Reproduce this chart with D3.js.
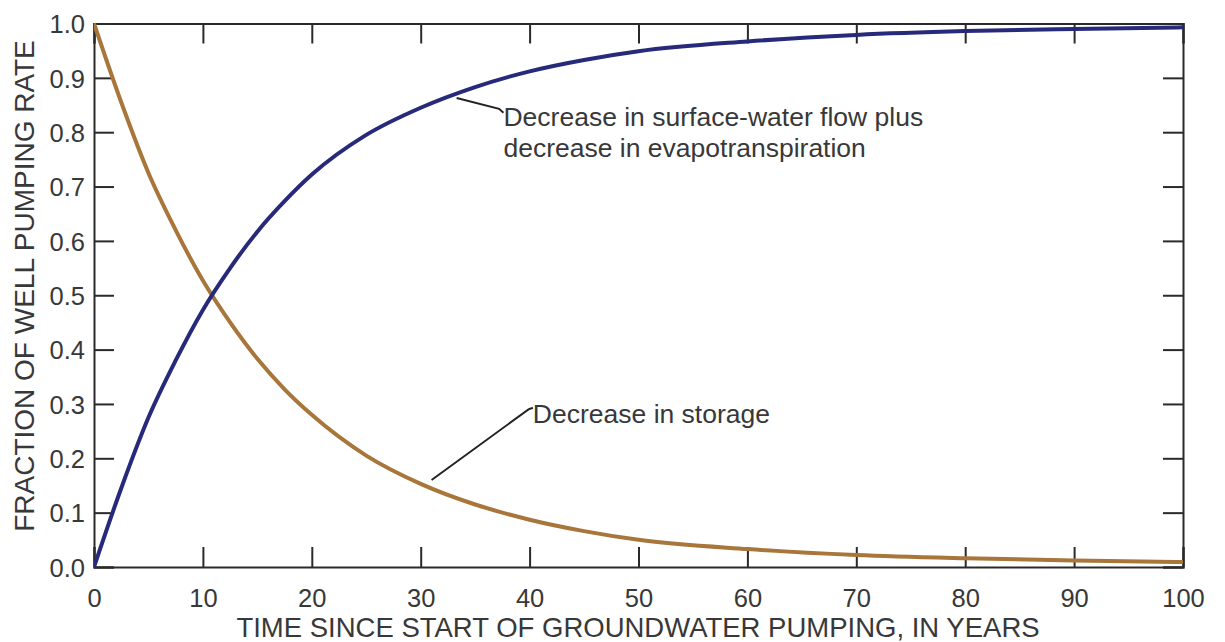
<!DOCTYPE html>
<html>
<head>
<meta charset="utf-8">
<script src="https://cdn.jsdelivr.net/npm/d3@7"></script>
<style>
  html, body { margin: 0; padding: 0; background: #fff; }
  svg { display: block; font-family: "Liberation Sans", Arial, sans-serif; }
</style>
</head>
<body>
<svg id="chart" width="1225" height="642"></svg>
<script>
// ---- data ----
const years = [0, 2.5, 5, 7.5, 10, 12.5, 15, 17.5, 20, 25, 30, 35, 40, 45, 50, 60, 70, 80, 90, 100];
const storage = [1.0, 0.855, 0.725, 0.62, 0.527, 0.45, 0.383, 0.327, 0.28, 0.205, 0.153, 0.115, 0.087, 0.066, 0.05, 0.033, 0.022, 0.016, 0.012, 0.009];
const surface = [0.0, 0.145, 0.275, 0.38, 0.473, 0.55, 0.617, 0.673, 0.722, 0.795, 0.845, 0.883, 0.912, 0.933, 0.949, 0.967, 0.979, 0.986, 0.990, 0.993];
const xTicks = [0, 10, 20, 30, 40, 50, 60, 70, 80, 90, 100];
const yTicks = [0, 0.1, 0.2, 0.3, 0.4, 0.5, 0.6, 0.7, 0.8, 0.9, 1.0];
const xTitle = "TIME SINCE START OF GROUNDWATER PUMPING, IN YEARS";
const yTitle = "FRACTION OF WELL PUMPING RATE";
const surfaceLabel = ["Decrease in surface-water flow plus", "decrease in evapotranspiration"];
const storageLabel = ["Decrease in storage"];
// annotation anchors in data units: [year, fraction]
const surfaceLeader = [[33.3, 0.863], [37.2, 0.843], [37.6, 0.836]];
const surfaceText = [37.6, 0.811];
const storageLeader = [[31.0, 0.160], [39.9, 0.290], [40.3, 0.293]];
const storageText = [40.3, 0.265];

// ---- layout ----
const m = { left: 94, right: 1183, top: 23.5, bottom: 567 };
const ink = "#2a2a2a";
const blue = "#27297a";
const brown = "#a8753a";
const textCol = "#383838";

const svg = d3.select("#chart");
const x = d3.scaleLinear().domain([0, 100]).range([m.left, m.right]);
const y = d3.scaleLinear().domain([0, 1]).range([m.bottom, m.top]);

const tickLen = 20;

const fmtY = d3.format(".1f");
const axB = d3.axisBottom(x).tickValues(xTicks).tickSize(-tickLen).tickPadding(22).tickFormat(d3.format("d"));
const axT = d3.axisTop(x).tickValues(xTicks).tickSize(-tickLen).tickFormat("");
const axL = d3.axisLeft(y).tickValues(yTicks).tickSize(-tickLen).tickPadding(9).tickFormat(fmtY);
const axR = d3.axisRight(y).tickValues(yTicks).tickSize(-tickLen).tickFormat("");

function style(g) {
  g.select(".domain").attr("stroke", ink).attr("stroke-width", 2);
  g.selectAll(".tick line").attr("stroke", ink).attr("stroke-width", 2);
  g.selectAll(".tick text").attr("fill", textCol).style("font-size", "25.5px")
    .style("font-family", "'Liberation Sans', Arial, sans-serif");
}

svg.append("g").attr("transform", `translate(0,${m.bottom})`).call(axB).call(style)
  .selectAll(".tick text").attr("dy", "0.71em");
svg.append("g").attr("transform", `translate(0,${m.top})`).call(axT).call(style);
svg.append("g").attr("transform", `translate(${m.left},0)`).call(axL).call(style)
  .selectAll(".tick text").attr("dy", "0.36em");
svg.append("g").attr("transform", `translate(${m.right},0)`).call(axR).call(style);

// curves
const line = d3.line().x(d => x(d[0])).y(d => y(d[1])).curve(d3.curveMonotoneX);
svg.append("clipPath").attr("id", "clip").append("rect")
  .attr("x", m.left).attr("y", m.top - 2).attr("width", m.right - m.left).attr("height", m.bottom - m.top + 4);

svg.append("path").datum(years.map((t, i) => [t, storage[i]]))
  .attr("d", line).attr("fill", "none").attr("stroke", brown).attr("stroke-width", 4)
  .attr("clip-path", "url(#clip)");
svg.append("path").datum(years.map((t, i) => [t, surface[i]]))
  .attr("d", line).attr("fill", "none").attr("stroke", blue).attr("stroke-width", 4)
  .attr("clip-path", "url(#clip)");

// annotations
const lead = d3.line().x(d => x(d[0])).y(d => y(d[1]));
svg.append("path").datum(surfaceLeader).attr("d", lead)
  .attr("fill", "none").attr("stroke", "#222").attr("stroke-width", 2);
svg.append("path").datum(storageLeader).attr("d", lead)
  .attr("fill", "none").attr("stroke", "#222").attr("stroke-width", 2);

const t1 = svg.append("text").attr("x", x(surfaceText[0])).attr("y", y(surfaceText[1]))
  .attr("fill", textCol).style("font-size", "26.5px");
surfaceLabel.forEach((s, i) => {
  t1.append("tspan").attr("x", x(surfaceText[0])).attr("dy", i === 0 ? 0 : 31).text(s);
});
svg.append("text").attr("x", x(storageText[0])).attr("y", y(storageText[1]))
  .attr("fill", textCol).style("font-size", "26.5px").text(storageLabel[0]);

// axis titles
svg.append("text").attr("x", 638).attr("y", 637)
  .attr("text-anchor", "middle").attr("fill", textCol).style("font-size", "27.5px").text(xTitle);
svg.append("text").attr("transform", `translate(34,286) rotate(-90)`)
  .attr("text-anchor", "middle").attr("fill", textCol).style("font-size", "28px").text(yTitle);
</script>
</body>
</html>
